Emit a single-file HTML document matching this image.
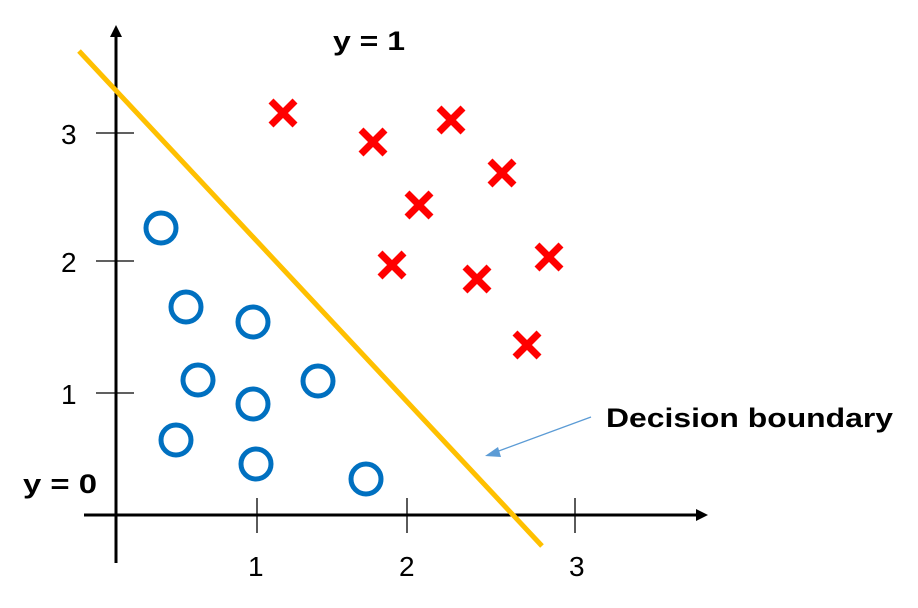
<!DOCTYPE html>
<html><head><style>body{margin:0;background:#fff}svg{display:block}</style></head><body>
<svg width="918" height="608" xmlns="http://www.w3.org/2000/svg" font-family="Liberation Sans, sans-serif">
<g stroke="#000">
<line x1="116" y1="36" x2="116" y2="563" stroke-width="3"/>
<line x1="84" y1="515" x2="697" y2="515" stroke-width="3"/>
<line x1="96" y1="133" x2="134" y2="133" stroke-width="1.3"/>
<line x1="96" y1="261" x2="134" y2="261" stroke-width="1.3"/>
<line x1="96" y1="393" x2="134" y2="393" stroke-width="1.3"/>
<line x1="257" y1="498" x2="257" y2="533" stroke-width="1.3"/>
<line x1="407" y1="498" x2="407" y2="533" stroke-width="1.3"/>
<line x1="575" y1="498" x2="575" y2="533" stroke-width="1.3"/>
</g>
<polygon points="116,25 110,37 122,37" fill="#000"/>
<polygon points="708,515 696,509 696,521" fill="#000"/>
<g font-size="28" fill="#000">
<text x="61" y="144">3</text><text x="61" y="272">2</text><text x="61" y="404">1</text>
<text x="248" y="576">1</text><text x="399" y="576">2</text><text x="569" y="576">3</text>
</g>
<g font-size="27" font-weight="bold">
<text x="333" y="50" textLength="72" lengthAdjust="spacingAndGlyphs">y = 1</text>
<text x="23" y="493" textLength="74" lengthAdjust="spacingAndGlyphs">y = 0</text>
<text x="606" y="427" textLength="287" lengthAdjust="spacingAndGlyphs">Decision boundary</text>
</g>
<line x1="79" y1="51" x2="542" y2="546" stroke="#FFC000" stroke-width="5"/>
<line x1="591" y1="417" x2="496" y2="452" stroke="#5B9BD5" stroke-width="1.3"/>
<polygon points="485,456 498,447 501,457" fill="#5B9BD5"/>
<g fill="none" stroke="#0070C0" stroke-width="5">
<circle cx="161" cy="228" r="15"/><circle cx="186" cy="307" r="15"/><circle cx="253" cy="322" r="15"/>
<circle cx="198" cy="380" r="15"/><circle cx="253" cy="404" r="15"/><circle cx="318" cy="381" r="15"/>
<circle cx="176" cy="440" r="15"/><circle cx="256" cy="464" r="15"/><circle cx="366" cy="479" r="15"/>
</g>
<g stroke="#FF0000" stroke-width="7">
<path d="M271 101l24 24M295 101l-24 24"/>
<path d="M361 130l24 24M385 130l-24 24"/>
<path d="M439 108l24 24M463 108l-24 24"/>
<path d="M490 161l24 24M514 161l-24 24"/>
<path d="M407 193l24 24M431 193l-24 24"/>
<path d="M380 253l24 24M404 253l-24 24"/>
<path d="M465 267l24 24M489 267l-24 24"/>
<path d="M537 245l24 24M561 245l-24 24"/>
<path d="M515 333l24 24M539 333l-24 24"/>
</g>
</svg>
</body></html>
